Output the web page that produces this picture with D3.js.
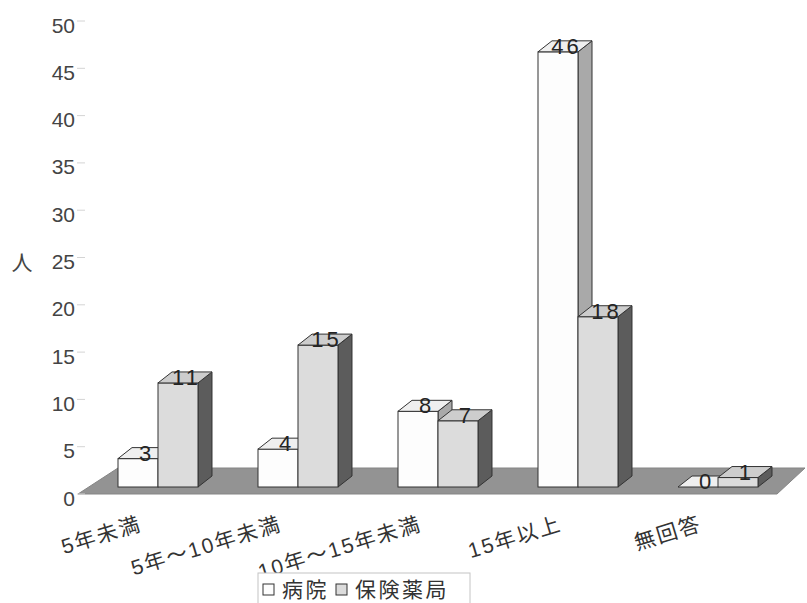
<!DOCTYPE html>
<html>
<head>
<meta charset="utf-8">
<script src="https://cdn.jsdelivr.net/npm/d3@7"></script>
<style>
  body { margin: 0; background: #fff; }
  text { font-family: "Liberation Sans", Arial, "Noto Sans CJK JP", sans-serif; }
</style>
</head>
<body>
<svg id="chart" width="807" height="603"></svg>
<script>
// Years of experience, respondents per workplace
const categories = ["5年未満", "5年～10年未満", "10年～15年未満", "15年以上", "無回答"];
const seriesNames = ["病院", "保険薬局"];
const hospital = [3, 4, 8, 46, 0];
const pharmacy = [11, 15, 7, 18, 1];
const yTicks = [0, 5, 10, 15, 20, 25, 30, 35, 40, 45, 50];
const yTitle = "人";

const svg = d3.select("#chart");

// value axis and category bands
const y = d3.scaleLinear().domain([0, 50]).range([494, 21]);
const x = d3.scaleBand().domain(categories).range([88, 788])
  .paddingInner(0.4286).paddingOuter(0.2143);
const xs = d3.scaleBand().domain(seriesNames).range([0, x.bandwidth()]);

// 3D depth of the columns and of the floor
const dx = 14, dy = -11;
const barLift = 7;          // columns stand in the middle of the floor depth
const floorDepth = 26;

const styles = {
  "病院":   { front: "#fdfdfd", top: "#efefef", side: "#a9a9a9" },
  "保険薬局": { front: "#dcdcdc", top: "#cdcdcd", side: "#5c5c5c" }
};

// floor
const y0 = y(0);
const [r0, r1] = x.range();
svg.append("path")
  .attr("d", `M${r0 - 10},${y0} L${r0 + 30},${y0 - floorDepth} L${r1 + 17},${y0 - floorDepth} L${r1 - 11},${y0} Z`)
  .attr("fill", "#939393")
  .attr("stroke", "#858585")
  .attr("stroke-width", 1);

// value axis ticks and labels
const axisG = svg.append("g");
axisG.selectAll("line.tick").data(yTicks).join("line")
  .attr("x1", 77).attr("x2", 85)
  .attr("y1", d => y(d)).attr("y2", d => y(d))
  .attr("stroke", "#d4d4d4").attr("stroke-width", 1);
axisG.selectAll("text.tick").data(yTicks).join("text")
  .attr("x", 75).attr("y", d => y(d) + 4)
  .attr("text-anchor", "end").attr("dominant-baseline", "central")
  .attr("font-size", 21).attr("fill", "#444")
  .text(d => d);

svg.append("text")
  .attr("x", 22).attr("y", 262)
  .attr("text-anchor", "middle").attr("dominant-baseline", "central")
  .attr("font-size", 21).attr("fill", "#444")
  .text(yTitle);

// columns
function box(g, x0, w, yTop, yBot, st) {
  g.append("path")
    .attr("d", `M${x0 + w},${yTop} L${x0 + w + dx},${yTop + dy} L${x0 + w + dx},${yBot + dy} L${x0 + w},${yBot} Z`)
    .attr("fill", st.side).attr("stroke", "#333").attr("stroke-width", 1);
  g.append("rect")
    .attr("x", x0).attr("y", yTop).attr("width", w).attr("height", yBot - yTop)
    .attr("fill", st.front).attr("stroke", "#333").attr("stroke-width", 1);
  g.append("path")
    .attr("d", `M${x0},${yTop} L${x0 + dx},${yTop + dy} L${x0 + w + dx},${yTop + dy} L${x0 + w},${yTop} Z`)
    .attr("fill", st.top).attr("stroke", "#333").attr("stroke-width", 1);
}

const barsG = svg.append("g");
const labels = [];
categories.forEach((c, i) => {
  const vals = [hospital[i], pharmacy[i]];
  seriesNames.forEach((s, j) => {
    const x0 = x(c) + xs(s);
    const w = xs.bandwidth();
    const yTop = y(vals[j]) - barLift;
    const yBot = y(0) - barLift;
    box(barsG, x0, w, yTop, yBot, styles[s]);
    labels.push({ v: vals[j], cx: x0 + w / 2 + dx / 2, cy: yTop + dy / 2 });
  });
});

// value labels on the column tops
svg.append("g").selectAll("text").data(labels).join("text")
  .attr("x", d => d.cx + 1.5).attr("y", d => d.cy)
  .attr("text-anchor", "middle").attr("dominant-baseline", "central")
  .attr("font-size", 22).attr("letter-spacing", 3).attr("fill", "#242424")
  .text(d => d.v);

// category labels, tilted
svg.append("g").selectAll("text").data(categories).join("text")
  .attr("transform", d => `translate(${x(d) + x.bandwidth() / 2 - 15},530) rotate(-17)`)
  .attr("text-anchor", "end")
  .attr("font-size", 21).attr("letter-spacing", 2).attr("fill", "#333")
  .text(d => d);

// legend
const lg = svg.append("g");
lg.append("rect").attr("x", 258).attr("y", 573).attr("width", 212).attr("height", 34)
  .attr("fill", "#fff").attr("stroke", "#c4c4c4");
const legendPos = [{ sx: 263, tx: 282 }, { sx: 336, tx: 355 }];
seriesNames.forEach((s, j) => {
  lg.append("rect").attr("x", legendPos[j].sx).attr("y", 584).attr("width", 11).attr("height", 11)
    .attr("fill", styles[s].front).attr("stroke", "#333");
  lg.append("text").attr("x", legendPos[j].tx).attr("y", 597)
    .attr("font-size", 21).attr("letter-spacing", 2.5).attr("fill", "#333").text(s);
});
</script>
</body>
</html>
